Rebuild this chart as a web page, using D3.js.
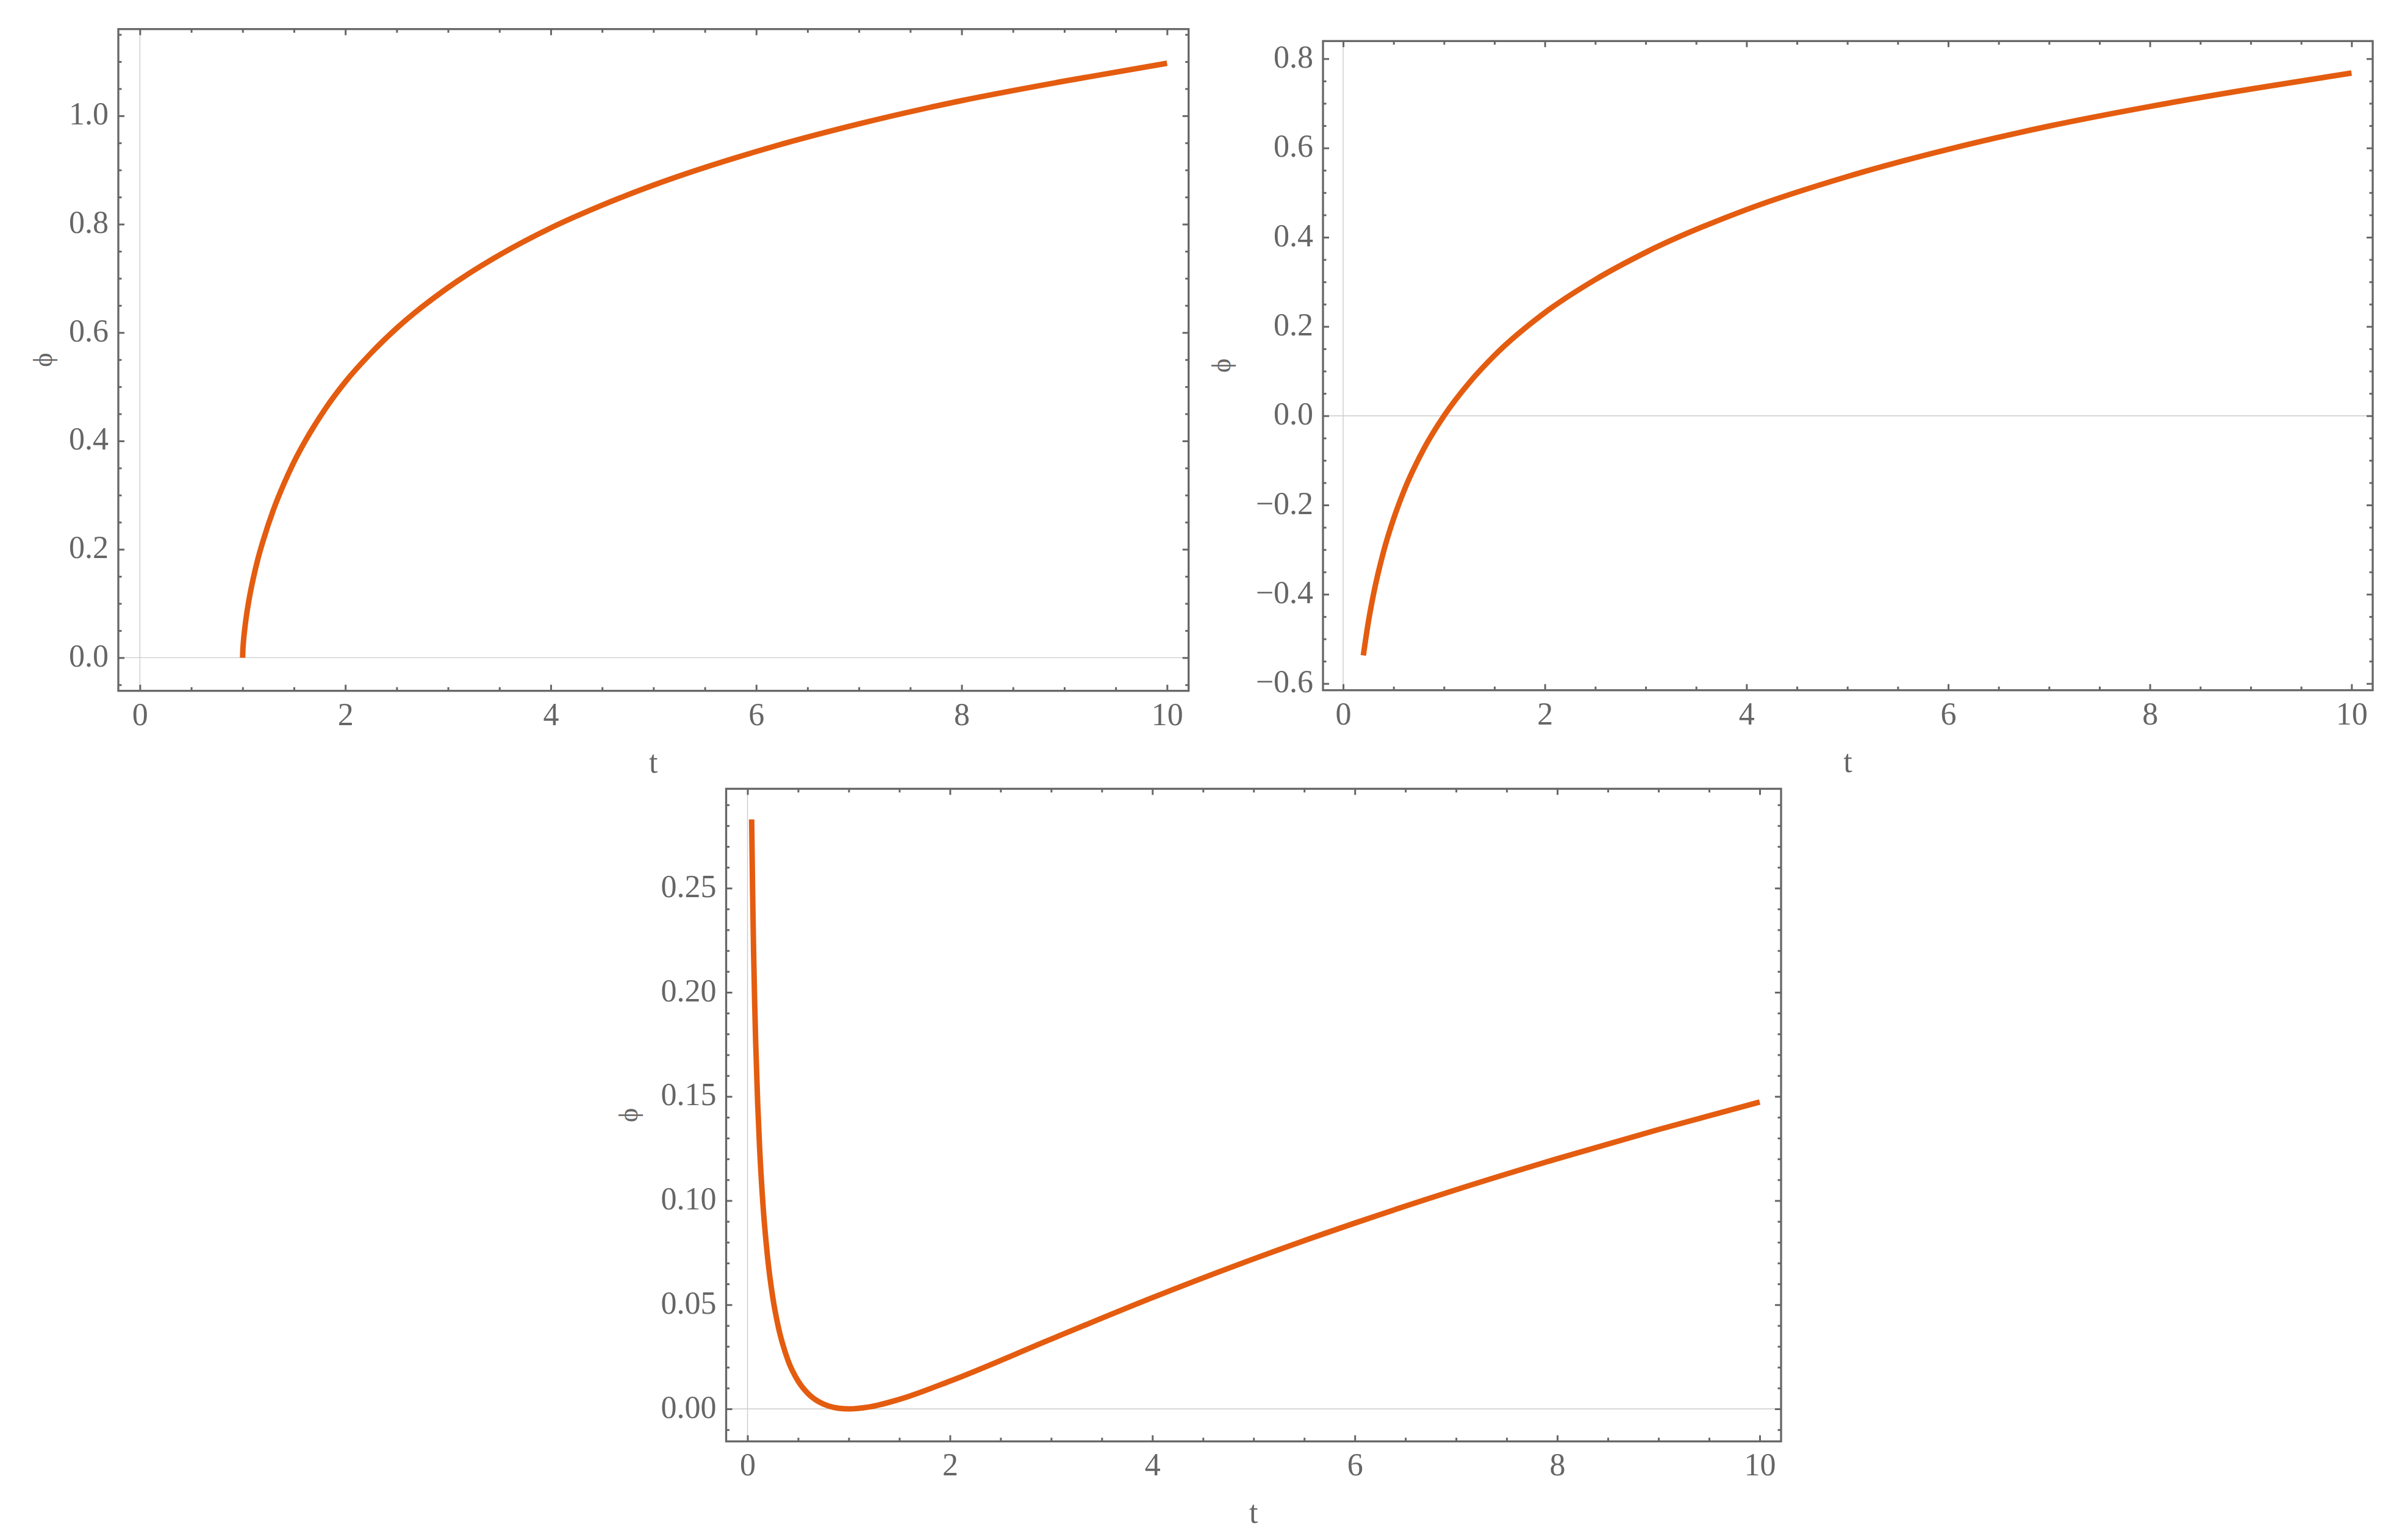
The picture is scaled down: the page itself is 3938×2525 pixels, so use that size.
<!DOCTYPE html>
<html>
<head>
<meta charset="utf-8">
<script src="https://cdn.jsdelivr.net/npm/d3@7"></script>
<style>
  html, body { margin: 0; padding: 0; background: #ffffff; }
  svg { display: block; }
  text { font-family: "Liberation Serif", "DejaVu Serif", serif; fill: #666666; }
</style>
</head>
<body>
<svg id="chart" width="3938" height="2525"></svg>
<script>
// ---------------- DATA ----------------
// Panel 1 (top left)
const p1T   = [1.0, 1.002, 1.005, 1.01, 1.02, 1.04, 1.07, 1.1, 1.15, 1.2, 1.3, 1.4, 1.5, 1.65, 1.8, 2.0, 2.25, 2.5, 3.0, 3.5, 4.0, 4.5, 5.0, 6.0, 7.0, 8.0, 9.0, 10.0];
const p1Phi = [0.0, 0.012, 0.022, 0.034, 0.052, 0.081, 0.115, 0.143, 0.183, 0.216, 0.273, 0.320, 0.361, 0.413, 0.458, 0.509, 0.562, 0.608, 0.683, 0.743, 0.793, 0.835, 0.872, 0.934, 0.985, 1.028, 1.064, 1.097];

// Panel 2 (top right)
const p2T   = [0.2, 0.25, 0.3, 0.4, 0.5, 0.6, 0.8, 1.0, 1.25, 1.5, 2.0, 2.5, 3.0, 4.0, 5.0, 6.0, 7.0, 8.0, 9.0, 10.0];
const p2Phi = [-0.537, -0.462, -0.401, -0.305, -0.231, -0.170, -0.074, 0.0, 0.074, 0.135, 0.231, 0.305, 0.366, 0.462, 0.536, 0.597, 0.649, 0.693, 0.732, 0.768];

// Panel 3 (bottom)
const p3T   = [0.041, 0.05, 0.06, 0.07, 0.08, 0.1, 0.12, 0.15, 0.2, 0.25, 0.3, 0.4, 0.5, 0.6, 0.7, 0.8, 0.9, 1.0, 1.2, 1.5, 2.0, 3.0, 4.0, 5.0, 6.0, 7.0, 8.0, 9.0, 10.0];
const p3Phi = [0.283, 0.2493, 0.2199, 0.1964, 0.1772, 0.1473, 0.1249, 0.1000, 0.0720, 0.0534, 0.0403, 0.0233, 0.01335, 0.00725, 0.00353, 0.00138, 0.00031, 0.0, 0.00092, 0.00457, 0.01335, 0.0335, 0.0534, 0.0720, 0.0892, 0.1052, 0.1201, 0.1341, 0.1473];

// Tick values and labels
const xTicks      = [0, 2, 4, 6, 8, 10];
const xTickLabels = ["0", "2", "4", "6", "8", "10"];
const p1YTicks      = [0, 0.2, 0.4, 0.6, 0.8, 1.0];
const p1YTickLabels = ["0.0", "0.2", "0.4", "0.6", "0.8", "1.0"];
const p2YTicks      = [-0.6, -0.4, -0.2, 0, 0.2, 0.4, 0.6, 0.8];
const p2YTickLabels = ["\u22120.6", "\u22120.4", "\u22120.2", "0.0", "0.2", "0.4", "0.6", "0.8"];
const p3YTicks      = [0, 0.05, 0.10, 0.15, 0.20, 0.25];
const p3YTickLabels = ["0.00", "0.05", "0.10", "0.15", "0.20", "0.25"];

const xTitle = "t";
const yTitle = "\u03D5";

// ---------------- LAYOUT ----------------
const AXIS_COLOR = "#666666";
const CURVE_COLOR = "#e45c0f";
const FONT_SIZE = 52;

const panels = [
  { t: p1T, phi: p1Phi, yTicks: p1YTicks, yLabels: p1YTickLabels,
    box: { left: 194, right: 1948.7, top: 47.7, bottom: 1132.7 },
    xDomain: [-0.21, 10.21], yDomain: [-0.0612, 1.16],
    xMinor: 0.5, yMinor: 0.05, yTitleX: 70 },
  { t: p2T, phi: p2Phi, yTicks: p2YTicks, yLabels: p2YTickLabels,
    box: { left: 2169, right: 3890, top: 67.3, bottom: 1131.7 },
    xDomain: [-0.2, 10.21], yDomain: [-0.615, 0.8396],
    xMinor: 0.5, yMinor: 0.05, yTitleX: 2002 },
  { t: p3T, phi: p3Phi, yTicks: p3YTicks, yLabels: p3YTickLabels,
    box: { left: 1190.5, right: 2920, top: 1293.3, bottom: 2363.3 },
    xDomain: [-0.211, 10.211], yDomain: [-0.0156, 0.2977],
    xMinor: 0.5, yMinor: 0.01, yTitleX: 1030 }
];

const svg = d3.select("#chart");
svg.append("rect").attr("width", 3938).attr("height", 2525).attr("fill", "#ffffff");

function minorValues(domain, step, majors) {
  const lo = Math.ceil(domain[0] / step - 1e-9), hi = Math.floor(domain[1] / step + 1e-9);
  const vals = [];
  for (let i = lo; i <= hi; i++) {
    const v = +(i * step).toFixed(6);
    if (!majors.some(m => Math.abs(m - v) < 1e-9)) vals.push(v);
  }
  return vals;
}

function styleAxis(g, withText) {
  g.select(".domain").remove();
  g.selectAll(".tick line").attr("stroke", AXIS_COLOR).attr("stroke-width", 3);
  g.selectAll(".tick text")
    .attr("fill", AXIS_COLOR)
    .style("font-family", "'Liberation Serif', serif")
    .style("font-size", FONT_SIZE + "px");
  if (!withText) g.selectAll(".tick text").remove();
}

panels.forEach(p => {
  const b = p.box;
  const x = d3.scaleLinear().domain(p.xDomain).range([b.left, b.right]);
  const y = d3.scaleLinear().domain(p.yDomain).range([b.bottom, b.top]);
  const g = svg.append("g");

  // zero lines (axes through origin)
  g.append("line").attr("x1", x(0)).attr("x2", x(0)).attr("y1", b.top).attr("y2", b.bottom)
    .attr("stroke", "#cccccc").attr("stroke-width", 1.4);
  g.append("line").attr("x1", b.left).attr("x2", b.right).attr("y1", y(0)).attr("y2", y(0))
    .attr("stroke", "#cccccc").attr("stroke-width", 1.4);

  // curve
  const pts = p.t.map((t, i) => [t, p.phi[i]]);
  g.append("path")
    .datum(pts)
    .attr("fill", "none")
    .attr("stroke", CURVE_COLOR)
    .attr("stroke-width", 9)
    .attr("stroke-linecap", "butt")
    .attr("stroke-linejoin", "round")
    .attr("d", d3.line().x(d => x(d[0])).y(d => y(d[1])).curve(d3.curveMonotoneX));

  const xMinorVals = minorValues(p.xDomain, p.xMinor, xTicks);
  const yMinorVals = minorValues(p.yDomain, p.yMinor, p.yTicks);

  // bottom axis (labels)
  const gb = g.append("g").attr("transform", `translate(0,${b.bottom})`)
    .call(d3.axisBottom(x).tickValues(xTicks).tickSize(-10).tickPadding(19)
      .tickFormat((d, i) => xTickLabels[i]));
  styleAxis(gb, true);
  gb.selectAll(".tick text").attr("dy", "0.71em");
  const gbm = g.append("g").attr("transform", `translate(0,${b.bottom})`)
    .call(d3.axisBottom(x).tickValues(xMinorVals).tickSize(-6));
  styleAxis(gbm, false);

  // top axis (mirror, no labels)
  const gt = g.append("g").attr("transform", `translate(0,${b.top})`)
    .call(d3.axisTop(x).tickValues(xTicks).tickSize(-10));
  styleAxis(gt, false);
  const gtm = g.append("g").attr("transform", `translate(0,${b.top})`)
    .call(d3.axisTop(x).tickValues(xMinorVals).tickSize(-6));
  styleAxis(gtm, false);

  // left axis (labels)
  const gl = g.append("g").attr("transform", `translate(${b.left},0)`)
    .call(d3.axisLeft(y).tickValues(p.yTicks).tickSize(-10).tickPadding(16)
      .tickFormat((d, i) => p.yLabels[i]));
  styleAxis(gl, true);
  gl.selectAll(".tick text").attr("dy", "0.27em");
  const glm = g.append("g").attr("transform", `translate(${b.left},0)`)
    .call(d3.axisLeft(y).tickValues(yMinorVals).tickSize(-5.5));
  styleAxis(glm, false);

  // right axis (mirror)
  const gr = g.append("g").attr("transform", `translate(${b.right},0)`)
    .call(d3.axisRight(y).tickValues(p.yTicks).tickSize(-10));
  styleAxis(gr, false);
  const grm = g.append("g").attr("transform", `translate(${b.right},0)`)
    .call(d3.axisRight(y).tickValues(yMinorVals).tickSize(-5.5));
  styleAxis(grm, false);

  // frame
  g.append("rect")
    .attr("x", b.left).attr("y", b.top)
    .attr("width", b.right - b.left).attr("height", b.bottom - b.top)
    .attr("fill", "none").attr("stroke", AXIS_COLOR).attr("stroke-width", 3.3);

  // axis titles
  g.append("text")
    .attr("x", (b.left + b.right) / 2).attr("y", b.bottom + 134)
    .attr("text-anchor", "middle")
    .style("font-size", FONT_SIZE + "px")
    .text(xTitle);
  g.append("text")
    .attr("transform", `translate(${p.yTitleX},${(b.top + b.bottom) / 2}) rotate(-90)`)
    .attr("text-anchor", "middle")
    .attr("dy", "0.35em")
    .style("font-size", "44px")
    .text(yTitle);
});
</script>
</body>
</html>
